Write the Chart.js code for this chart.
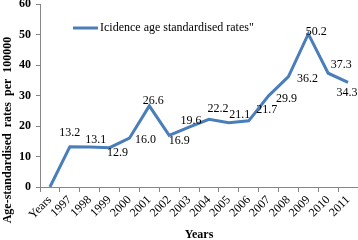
<!DOCTYPE html>
<html lang="en">
<head>
    <meta charset="UTF-8">
    <title>Icidence age standardised rates</title>
    <style>
        html, body {
            margin: 0;
            padding: 0;
            background: #ffffff;
        }
        #chartContainer {
            width: 358px;
            height: 240px;
        }
    </style>
    <script src="https://cdn.jsdelivr.net/npm/chart.js@4.4.1/dist/chart.umd.min.js"></script>
</head>
<body>
    <div id="chartContainer">
        <canvas id="myChart"></canvas>
    </div>
    <script>
        // dados do gráfico
        const years = ['Years', '1997', '1998', '1999', '2000', '2001', '2002', '2003',
                       '2004', '2005', '2006', '2007', '2008', '2009', '2010', '2011'];
        const rates = [0, 13.2, 13.1, 12.9, 16.0, 26.6, 16.9, 19.6,
                       22.2, 21.1, 21.7, 29.9, 36.2, 50.2, 37.3, 34.3];
        const seriesName = 'Icidence age standardised rates"';
        const yTicks = [0, 10, 20, 30, 40, 50, 60];

        // deslocamento de cada rótulo em relação ao ponto (null = sem rótulo)
        const labelNudge = [
            null, [0, -14], [6, -7], [8, 5], [16, 2], [4, -5], [10, 5], [2, -6],
            [9, -10], [11, -8], [18, -11], [18, 3], [19, 2], [8, -2], [13, -8], [-1, 10]
        ];

        const lineColor = '#4a7ebb';
        const axisColor = '#868686';
        const serif = "'Liberation Serif', 'Times New Roman', serif";

        // rótulos, legenda e títulos dos eixos
        const extrasPlugin = {
            id: 'extras',
            afterDatasetsDraw(chart) {
                const ctx = chart.ctx;
                const meta = chart.getDatasetMeta(0);
                ctx.save();
                ctx.fillStyle = '#000';
                ctx.font = '12px ' + serif;
                ctx.textAlign = 'center';
                ctx.textBaseline = 'middle';
                meta.data.forEach((pt, i) => {
                    const n = labelNudge[i];
                    if (!n) return;
                    ctx.fillText(rates[i].toFixed(1), pt.x + n[0], pt.y + n[1]);
                });

                // legenda
                ctx.strokeStyle = lineColor;
                ctx.lineWidth = 3;
                ctx.beginPath();
                ctx.moveTo(73, 28);
                ctx.lineTo(98, 28);
                ctx.stroke();
                ctx.textAlign = 'left';
                ctx.fillText(seriesName, 100, 28);

                // títulos
                ctx.font = 'bold 12px ' + serif;
                ctx.textAlign = 'center';
                const area = chart.chartArea;
                ctx.fillText('Years', (area.left + area.right) / 2, 235);
                ctx.translate(8, 130);
                ctx.rotate(-Math.PI / 2);
                ctx.fillText('Age-standardised  rates  per  100000', 0, 0);
                ctx.restore();
            }
        };

        const ctx = document.getElementById('myChart').getContext('2d');
        new Chart(ctx, {
            type: 'line',
            data: {
                labels: years,
                datasets: [{
                    label: seriesName,
                    data: rates,
                    borderColor: lineColor,
                    borderWidth: 3,
                    pointRadius: 0,
                    tension: 0,
                    fill: false
                }]
            },
            options: {
                responsive: true,
                maintainAspectRatio: false,
                animation: false,
                layout: { padding: 0 },
                plugins: {
                    legend: { display: false },
                    tooltip: { enabled: false }
                },
                scales: {
                    x: {
                        offset: true,
                        grid: {
                            offset: true,
                            drawOnChartArea: false,
                            color: axisColor,
                            tickLength: 5
                        },
                        border: { color: axisColor, width: 1 },
                        ticks: {
                            color: '#000',
                            font: { family: serif, size: 12 },
                            minRotation: 45,
                            maxRotation: 45,
                            autoSkip: false,
                            padding: 1
                        },
                        afterFit(scale) {
                            scale.height = 53;
                            scale.paddingLeft = 0;
                            scale.paddingRight = 0;
                        }
                    },
                    y: {
                        min: 0,
                        max: 60,
                        afterBuildTicks(scale) {
                            scale.ticks = yTicks.map(v => ({ value: v }));
                        },
                        grid: {
                            drawOnChartArea: false,
                            color: axisColor,
                            tickLength: 4
                        },
                        border: { color: axisColor, width: 1 },
                        ticks: {
                            color: '#000',
                            font: { family: serif, size: 12, weight: 'bold' },
                            padding: 5
                        },
                        afterFit(scale) {
                            scale.width = 40;
                            scale.paddingTop = 4;
                            scale.paddingBottom = 0;
                        }
                    }
                }
            },
            plugins: [extrasPlugin]
        });
    </script>
</body>
</html>
